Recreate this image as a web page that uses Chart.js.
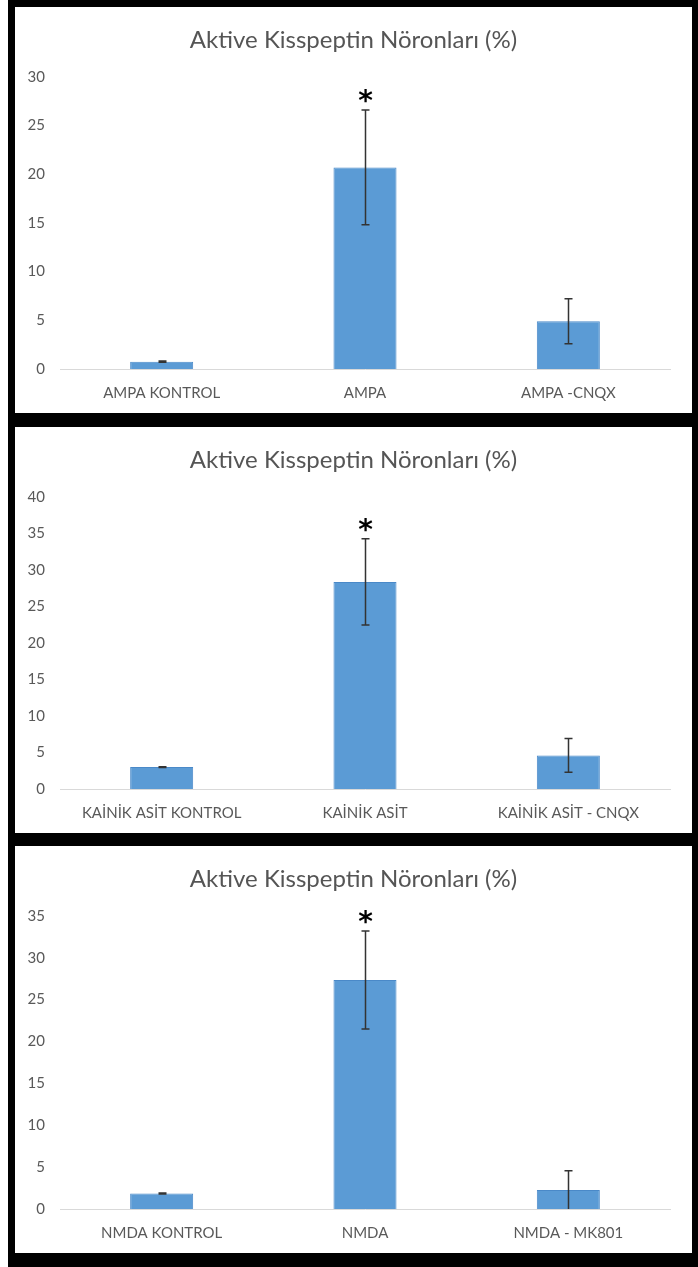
<!DOCTYPE html>
<html>
<head>
<meta charset="utf-8">
<script src="https://cdn.jsdelivr.net/npm/chart.js@4"></script>
<style>
  html, body { margin: 0; padding: 0; background: #ffffff; }
  #frame { position: absolute; left: 8px; top: 0; width: 690px; height: 1267px; background: #000; }
  .panel { position: absolute; left: 15px; width: 677px; background: #fff; }
  .panel canvas { display: block; }
</style>
</head>
<body>
<div id="frame"></div>
<div class="panel" style="top:7px;height:406px;"><canvas id="c1" width="677" height="406"></canvas></div>
<div class="panel" style="top:427px;height:406px;"><canvas id="c2" width="677" height="406"></canvas></div>
<div class="panel" style="top:846px;height:407px;"><canvas id="c3" width="677" height="407"></canvas></div>
<script>
const chartTitle = 'Aktive Kisspeptin Nöronları (%)';

const categories1 = ['AMPA KONTROL', 'AMPA', 'AMPA -CNQX'];
const values1 = [0.75, 20.7, 4.9];
const errors1 = [0.06, 5.9, 2.3];
const marks1 = ['', '*', ''];
const yMax1 = 30;

const categories2 = ['KAİNİK ASİT KONTROL', 'KAİNİK ASİT', 'KAİNİK ASİT - CNQX'];
const values2 = [3.0, 28.35, 4.6];
const errors2 = [0.06, 5.9, 2.3];
const marks2 = ['', '*', ''];
const yMax2 = 40;

const categories3 = ['NMDA KONTROL', 'NMDA', 'NMDA - MK801'];
const values3 = [1.85, 27.35, 2.27];
const errors3 = [0.06, 5.85, 2.3];
const marks3 = ['', '*', ''];
const yMax3 = 35;

const yStep = 5;

const errorBarPlugin = {
  id: 'errorBars',
  afterDatasetsDraw(chart, args, opts) {
    const ctx = chart.ctx;
    const meta = chart.getDatasetMeta(0);
    const ys = chart.scales.y;
    const errs = opts.errors || [];
    const marks = opts.marks || [];
    const vals = chart.data.datasets[0].data;
    ctx.save();
    meta.data.forEach((bar, i) => {
      const v = vals[i], e = errs[i] || 0;
      const x = Math.round(bar.x) + 0.5;
      const yTop = ys.getPixelForValue(v + e);
      const yBot = ys.getPixelForValue(Math.max(0, v - e));
      ctx.strokeStyle = '#333333';
      ctx.lineWidth = 1.5;
      ctx.beginPath();
      ctx.moveTo(x, yTop); ctx.lineTo(x, yBot);
      ctx.moveTo(x - 4, yTop); ctx.lineTo(x + 4, yTop);
      if (v - e > 0) { ctx.moveTo(x - 4, yBot); ctx.lineTo(x + 4, yBot); }
      ctx.stroke();
      if (marks[i]) {
        ctx.fillStyle = '#000';
        ctx.font = 'bold 28px "DejaVu Sans"';
        ctx.textAlign = 'center';
        ctx.textBaseline = 'middle';
        ctx.fillText(marks[i], x, yTop - 7);
      }
    });
    ctx.restore();
  }
};

function makeChart(id, cats, vals, errs, marks, yMax) {
  new Chart(document.getElementById(id), {
    type: 'bar',
    data: {
      labels: cats,
      datasets: [{
        data: vals,
        backgroundColor: '#5b9bd5',
        borderColor: '#4a89c8',
        borderWidth: 1,
        categoryPercentage: 1.0,
        barPercentage: 0.31
      }]
    },
    options: {
      responsive: false,
      animation: false,
      layout: { padding: { top: 0, right: 0, bottom: 0, left: 0 } },
      plugins: {
        legend: { display: false },
        tooltip: { enabled: false },
        title: {
          display: true,
          text: chartTitle,
          color: '#555555',
          font: { family: 'Lato', size: 24, weight: 'normal' },
          padding: { top: 19, bottom: 22 }
        },
        errorBars: { errors: errs, marks: marks }
      },
      scales: {
        x: {
          grid: { display: false, drawTicks: false },
          border: { display: true, color: '#d9d9d9', width: 1 },
          ticks: { color: '#595959', font: { family: 'Lato', size: 15 }, padding: 15, maxRotation: 0, autoSkip: false },
          afterFit(scale) { scale.height = 44; }
        },
        y: {
          min: 0, max: yMax,
          grid: { display: false, drawTicks: false },
          border: { display: false },
          ticks: { stepSize: yStep, color: '#595959', font: { family: 'Lato', size: 15 }, padding: 15 },
          afterFit(scale) { scale.width = 45; }
        },
        yRight: {
          position: 'right',
          display: true,
          min: 0, max: yMax,
          grid: { display: false, drawTicks: false },
          border: { display: false },
          ticks: { display: false },
          afterFit(scale) { scale.width = 22; }
        }
      }
    },
    plugins: [errorBarPlugin]
  });
}

makeChart('c1', categories1, values1, errors1, marks1, yMax1);
makeChart('c2', categories2, values2, errors2, marks2, yMax2);
makeChart('c3', categories3, values3, errors3, marks3, yMax3);
</script>
</body>
</html>
